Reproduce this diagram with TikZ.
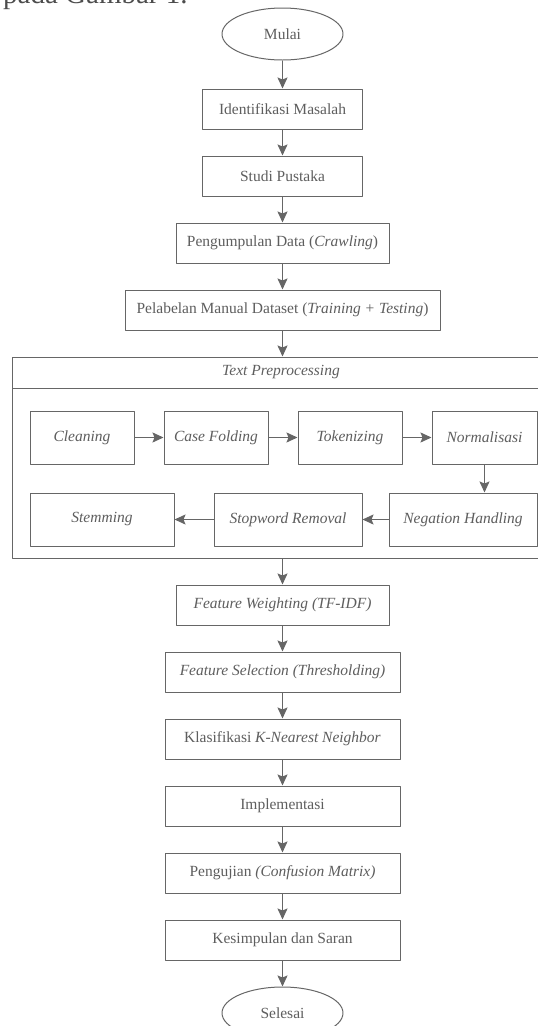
\documentclass[tikz,border=0pt]{standalone}
\usepackage{fontspec}
\setmainfont{Liberation Serif}
\usetikzlibrary{arrows.meta,positioning,shapes.geometric}
\definecolor{garis}{HTML}{666666}
\definecolor{teks}{HTML}{5E5E5E}
\tikzset{
  proses/.style={draw=garis,fill=white,line width=1pt,minimum height=40pt,inner sep=2pt,text=teks,font=\fontsize{15.5}{18}\selectfont},
  subproses/.style={proses,minimum height=53pt,font=\fontsize{15.5}{18}\selectfont\itshape},
  terminal/.style={proses,ellipse,minimum width=121pt,minimum height=52pt},
  panah/.style={->,draw=garis,line width=1.4pt}
}
\begin{document}
\begin{tikzpicture}[x=1pt,y=-1pt,>={Stealth[length=11pt,width=10pt,inset=2pt]},line join=round]
			\def\xc{282.5} \def\ya{437.5} \def\yb{519.5}
			\useasboundingbox (0,0) rectangle (538,1026);
			\clip (0,0) rectangle (538,1026);
			% sisa kalimat di atas gambar
			\node[anchor=base west,inner sep=0pt,text=black!70,font=\fontsize{29}{32}\selectfont] (kalimat) at (3,3) {pada Gambar 1.};
			\node[terminal] (mulai) at (\xc,34) {Mulai};
			\node[proses,minimum width=160pt] (identifikasi) at (\xc,109) {Identifikasi Masalah};
			\node[proses,minimum width=160pt] (studi) at (\xc,176) {Studi Pustaka};
			\node[proses,minimum width=213pt] (pengumpulan) at (\xc,243) {Pengumpulan Data (\textit{Crawling})};
			\node[proses,minimum width=315pt] (pelabelan) at (\xc,310) {Pelabelan Manual Dataset (\textit{Training + Testing})};
			% kotak text preprocessing
			\node[proses,minimum width=538pt,minimum height=201pt,fill=none] (praproses) at (281,457.5) {};
			\draw[garis,line width=1pt] (12,388) -- (550,388);
			\node[text=teks,font=\fontsize{15.5}{18}\selectfont\itshape] (judul) at (281,372.5) {Text Preprocessing};
			\node[subproses,minimum width=104pt] (cleaning) at (82,\ya) {Cleaning};
			\node[subproses,minimum width=104pt] (casefolding) at (216,\ya) {Case Folding};
			\node[subproses,minimum width=104pt] (tokenizing) at (350,\ya) {Tokenizing};
			\node[subproses,minimum width=105pt] (normalisasi) at (484.5,\ya) {Normalisasi};
			\node[subproses,minimum width=144pt] (stemming) at (102,\yb) {Stemming};
			\node[subproses,minimum width=148pt] (stopword) at (288,\yb) {Stopword Removal};
			\node[subproses,minimum width=148pt] (negasi) at (463,\yb) {Negation Handling};
			%
			\node[proses,minimum width=213pt] (pembobotan) at (\xc,605) {\textit{Feature Weighting (TF-IDF)}};
			\node[proses,minimum width=235pt] (seleksi) at (\xc,672) {\textit{Feature Selection (Thresholding)}};
			\node[proses,minimum width=235pt] (klasifikasi) at (\xc,739) {Klasifikasi \textit{K-Nearest Neighbor}};
			\node[proses,minimum width=235pt] (implementasi) at (\xc,806) {Implementasi};
			\node[proses,minimum width=235pt] (pengujian) at (\xc,873) {Pengujian \textit{(Confusion Matrix)}};
			\node[proses,minimum width=235pt] (kesimpulan) at (\xc,940) {Kesimpulan dan Saran};
			\node[terminal] (selesai) at (\xc,1013) {Selesai};
			% panah
			\foreach \a/\b in {mulai/identifikasi,identifikasi/studi,studi/pengumpulan,pengumpulan/pelabelan,
				cleaning/casefolding,casefolding/tokenizing,tokenizing/normalisasi,negasi/stopword,stopword/stemming,
				pembobotan/seleksi,seleksi/klasifikasi,klasifikasi/implementasi,implementasi/pengujian,
				pengujian/kesimpulan,kesimpulan/selesai}
				\draw[panah] (\a) -- (\b);
			\draw[panah] (pelabelan.south) -- (pelabelan.south |- praproses.north);
			\draw[panah] (normalisasi.south) -- (normalisasi.south |- negasi.north);
			\draw[panah] (pembobotan.north |- praproses.south) -- (pembobotan.north);
		\end{tikzpicture}
\end{document}
